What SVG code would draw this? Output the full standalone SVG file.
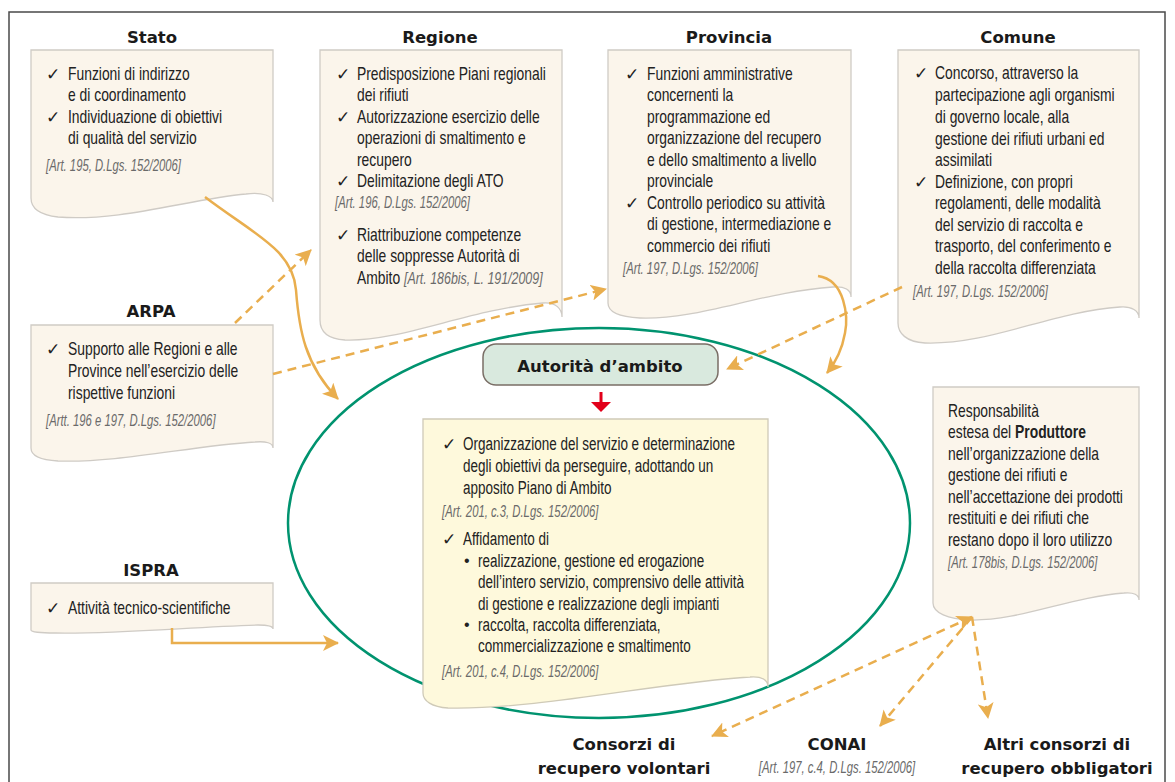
<svg xmlns="http://www.w3.org/2000/svg" width="1175" height="782" viewBox="0 0 1175 782">
<style>
.doc{fill:#fbf5eb;stroke:#cfcbc5;stroke-width:1.3}
.t{font-family:"Liberation Sans",Arial,sans-serif;font-size:19px;fill:#222}
.c{font-family:"Liberation Sans",Arial,sans-serif;font-size:17px;font-style:italic;fill:#6a6a6a}
.h{font-family:"DejaVu Sans",sans-serif;font-weight:bold;font-size:16.5px;fill:#1a1a1a;text-anchor:middle}
.ck{font-family:"DejaVu Sans",sans-serif;font-weight:bold;font-size:17px;fill:#222}
.sol{fill:none;stroke:#e9ae4e;stroke-width:2.5}
.dash{fill:none;stroke:#e9ae4e;stroke-width:2.5;stroke-dasharray:9 6}
</style>
<defs>
<marker id="ah" viewBox="0 0 16 16" refX="15" refY="8" markerWidth="16" markerHeight="16" markerUnits="userSpaceOnUse" orient="auto-start-reverse">
<path d="M0,0 L16,8 L0,16 L4,8 Z" fill="#e9ae4e"/>
</marker>
</defs>
<rect x="0" y="0" width="1175" height="782" fill="#fff"/>
<rect x="9" y="12" width="1156" height="800" fill="none" stroke="#4a4a4a" stroke-width="1.5"/>

<g id="ellipse-ambito">
<ellipse cx="599" cy="523" rx="311" ry="195" fill="none" stroke="#00936f" stroke-width="2.5"/>
</g>

<g id="stato">
<text class="h" x="152" y="43">Stato</text>
<path class="doc" d="M31,50 H273 V202 C273,196 263,192 246,194 C190,199 120,222 58,217 C40,215 31,208 31,198 Z"/>
<text class="ck" x="46" y="80">✓</text>
<text class="ck" x="46" y="123">✓</text>
<text class="t" transform="translate(68,0) scale(0.73,1)"><tspan x="0" y="80">Funzioni di indirizzo</tspan><tspan x="0" y="101.5">e di coordinamento</tspan><tspan x="0" y="123">Individuazione di obiettivi</tspan><tspan x="0" y="144.5">di qualità del servizio</tspan></text>
<text class="c" transform="translate(46,0) scale(0.665,1)" x="0" y="171">[Art. 195, D.Lgs. 152/2006]</text>
</g>

<g id="regione">
<text class="h" x="440" y="43">Regione</text>
<path class="doc" d="M320,50 H562 V317 C562,309 556,302 543,303 C470,309 400,342 345,340 C328,339 320,332 320,320 Z"/>
<text class="ck" x="336" y="80">✓</text>
<text class="ck" x="336" y="123">✓</text>
<text class="ck" x="336" y="187">✓</text>
<text class="ck" x="336" y="241">✓</text>
<text class="t" transform="translate(357,0) scale(0.73,1)"><tspan x="0" y="80">Predisposizione Piani regionali</tspan><tspan x="0" y="101.5">dei rifiuti</tspan><tspan x="0" y="123">Autorizzazione esercizio delle</tspan><tspan x="0" y="144.5">operazioni di smaltimento e</tspan><tspan x="0" y="166">recupero</tspan><tspan x="0" y="187">Delimitazione degli ATO</tspan><tspan x="0" y="241">Riattribuzione competenze</tspan><tspan x="0" y="262.5">delle soppresse Autorità di</tspan><tspan x="0" y="284">Ambito </tspan><tspan class="c">[Art. 186bis, L. 191/2009]</tspan></text>
<text class="c" transform="translate(335,0) scale(0.665,1)" x="0" y="208">[Art. 196, D.Lgs. 152/2006]</text>
</g>

<g id="provincia">
<text class="h" x="729" y="43">Provincia</text>
<path class="doc" d="M608,50 H851 V297 C851,290 845,286 833,287 C760,292 700,320 640,318 C620,317 608,312 608,303 Z"/>
<text class="ck" x="625" y="80">✓</text>
<text class="ck" x="625" y="209">✓</text>
<text class="t" transform="translate(647,0) scale(0.73,1)"><tspan x="0" y="80">Funzioni amministrative</tspan><tspan x="0" y="101.5">concernenti la</tspan><tspan x="0" y="123">programmazione ed</tspan><tspan x="0" y="144.5">organizzazione del recupero</tspan><tspan x="0" y="166">e dello smaltimento a livello</tspan><tspan x="0" y="187.5">provinciale</tspan><tspan x="0" y="209">Controllo periodico su attività</tspan><tspan x="0" y="230.5">di gestione, intermediazione e</tspan><tspan x="0" y="252">commercio dei rifiuti</tspan></text>
<text class="c" transform="translate(623,0) scale(0.665,1)" x="0" y="274">[Art. 197, D.Lgs. 152/2006]</text>
</g>

<g id="comune">
<text class="h" x="1018" y="43">Comune</text>
<path class="doc" d="M898,50 H1139 V318 C1139,311 1132,306 1120,307 C1050,312 990,345 925,343 C906,342 898,333 898,323 Z"/>
<text class="ck" x="914" y="79">✓</text>
<text class="ck" x="914" y="188">✓</text>
<text class="t" transform="translate(935,0) scale(0.73,1)"><tspan x="0" y="79">Concorso, attraverso la</tspan><tspan x="0" y="101">partecipazione agli organismi</tspan><tspan x="0" y="123">di governo locale, alla</tspan><tspan x="0" y="145">gestione dei rifiuti urbani ed</tspan><tspan x="0" y="166.5">assimilati</tspan><tspan x="0" y="188">Definizione, con propri</tspan><tspan x="0" y="209.5">regolamenti, delle modalità</tspan><tspan x="0" y="231">del servizio di raccolta e</tspan><tspan x="0" y="252.5">trasporto, del conferimento e</tspan><tspan x="0" y="274">della raccolta differenziata</tspan></text>
<text class="c" transform="translate(913,0) scale(0.665,1)" x="0" y="297">[Art. 197, D.Lgs. 152/2006]</text>
</g>

<g id="arpa">
<text class="h" x="151" y="317">ARPA</text>
<path class="doc" d="M31,325 H273 V448 C273,443 266,441 255,442 C190,446 120,463 58,461 C40,460 31,455 31,448 Z"/>
<text class="ck" x="46" y="355">✓</text>
<text class="t" transform="translate(68,0) scale(0.73,1)"><tspan x="0" y="355">Supporto alle Regioni e alle</tspan><tspan x="0" y="377">Province nell’esercizio delle</tspan><tspan x="0" y="399">rispettive funzioni</tspan></text>
<text class="c" transform="translate(46,0) scale(0.665,1)" x="0" y="426">[Artt. 196 e 197, D.Lgs. 152/2006]</text>
</g>

<g id="ispra">
<text class="h" x="151" y="576">ISPRA</text>
<path class="doc" d="M31,583 H273 V629 C273,626 268,625 258,625 C190,627 120,634 55,633 C40,633 31,632 31,630 Z"/>
<text class="ck" x="46" y="614">✓</text>
<text class="t" transform="translate(68,0) scale(0.73,1)" x="0" y="614">Attività tecnico-scientifiche</text>
</g>

<g id="autorita">
<rect x="483" y="344" width="235" height="41" rx="13" fill="#d9e9de" stroke="#7a6e66" stroke-width="1.5"/>
<text class="h" x="600" y="372">Autorità d’ambito</text>
<path d="M601,392 V404" stroke="#e2001a" stroke-width="3"/>
<path d="M591,402 H611 L601,412 Z" fill="#e2001a"/>
</g>

<g id="compiti-ambito">
<path d="M423,419 H768 V687 C768,680 762,676 750,677 C660,682 540,710 448,708 C432,707 423,701 423,693 Z" fill="#fef9dc" stroke="#cfcab8" stroke-width="1.3"/>
<text class="ck" x="442" y="450">✓</text>
<text class="ck" x="442" y="545">✓</text>
<text class="t" x="464" y="566" style="font-size:16px">•</text>
<text class="t" x="464" y="630" style="font-size:16px">•</text>
<text class="t" transform="translate(463,0) scale(0.71,1)"><tspan x="0" y="450">Organizzazione del servizio e determinazione</tspan><tspan x="0" y="472">degli obiettivi da perseguire, adottando un</tspan><tspan x="0" y="494">apposito Piano di Ambito</tspan><tspan x="0" y="545">Affidamento di</tspan></text>
<text class="t" transform="translate(478,0) scale(0.71,1)"><tspan x="0" y="567">realizzazione, gestione ed erogazione</tspan><tspan x="0" y="588.5">dell’intero servizio, comprensivo delle attività</tspan><tspan x="0" y="610">di gestione e realizzazione degli impianti</tspan><tspan x="0" y="631">raccolta, raccolta differenziata,</tspan><tspan x="0" y="652.5">commercializzazione e smaltimento</tspan></text>
<text class="c" transform="translate(442,0) scale(0.665,1)"><tspan x="0" y="517">[Art. 201, c.3, D.Lgs. 152/2006]</tspan><tspan x="0" y="677">[Art. 201, c.4, D.Lgs. 152/2006]</tspan></text>
</g>

<g id="produttore">
<path class="doc" d="M933,387 H1139 V600 C1139,595 1134,592 1124,593 C1070,597 1020,621 970,620 C948,619 933,613 933,603 Z"/>
<text class="t" transform="translate(948,0) scale(0.73,1)"><tspan x="0" y="417">Responsabilità</tspan><tspan x="0" y="438.5">estesa del <tspan font-weight="bold">Produttore</tspan></tspan><tspan x="0" y="460">nell’organizzazione della</tspan><tspan x="0" y="481.5">gestione dei rifiuti e</tspan><tspan x="0" y="503">nell’accettazione dei prodotti</tspan><tspan x="0" y="524.5">restituiti e dei rifiuti che</tspan><tspan x="0" y="546">restano dopo il loro utilizzo</tspan></text>
<text class="c" transform="translate(948,0) scale(0.665,1)" x="0" y="568">[Art. 178bis, D.Lgs. 152/2006]</text>
</g>

<g id="consorzi-volontari">
<text class="h" x="624" y="750">Consorzi di</text>
<text class="h" x="624" y="774">recupero volontari</text>
</g>
<g id="conai">
<text class="h" x="837" y="750">CONAI</text>
<text class="c" transform="translate(837,0) scale(0.665,1)" x="0" y="773" text-anchor="middle">[Art. 197, c.4, D.Lgs. 152/2006]</text>
</g>
<g id="consorzi-obbligatori">
<text class="h" x="1057" y="750">Altri consorzi di</text>
<text class="h" x="1057" y="774">recupero obbligatori</text>
</g>

<g id="connectors">
<path class="sol" d="M205,197 C255,235 293,250 296,290 C299,330 305,365 338,399" marker-end="url(#ah)"/>
<path class="sol" d="M818,276 C846,280 848,318 845,333 C842,350 836,362 827,373" marker-end="url(#ah)"/>
<path class="sol" d="M172,628 V643 H338" marker-end="url(#ah)"/>
<path class="dash" d="M235,323 L311,250" marker-end="url(#ah)"/>
<path class="dash" d="M273,374 L606,289" marker-end="url(#ah)"/>
<path class="dash" d="M902,287 L727,369" marker-end="url(#ah)"/>
<path class="dash" d="M972,617 L712,736" marker-start="url(#ah)" marker-end="url(#ah)"/>
<path class="dash" d="M972,617 L880,726" marker-end="url(#ah)"/>
<path class="dash" d="M972,617 L988,718" marker-end="url(#ah)"/>
</g>
</svg>
